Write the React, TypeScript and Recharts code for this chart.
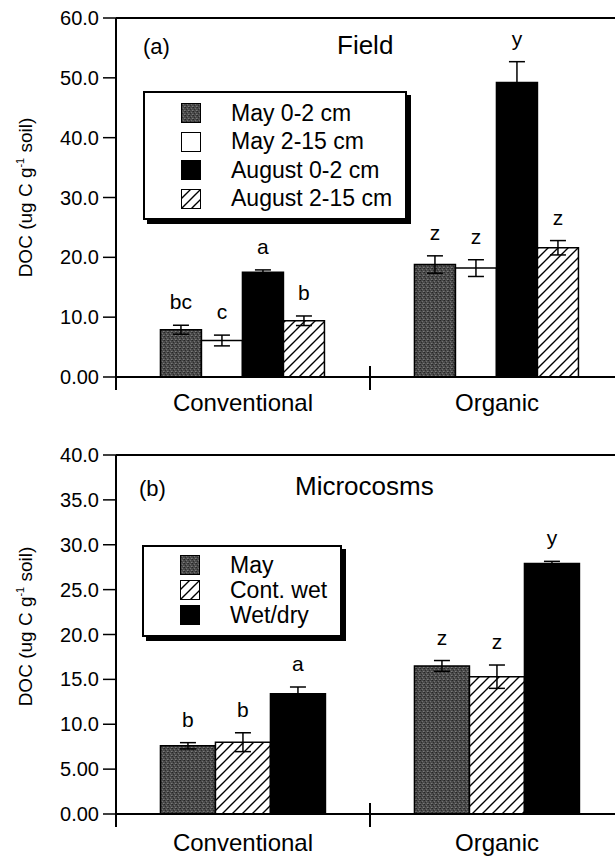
import React from 'react';
import { BarChart, Bar, XAxis, YAxis, ErrorBar, LabelList, ReferenceLine, Legend, Label } from 'recharts';

const FONT = '"Liberation Sans", Arial, Helvetica, sans-serif';

const categories = ['Conventional', 'Organic'];

// (a) Field
const fieldNames = ['May 0-2 cm', 'May 2-15 cm', 'August 0-2 cm', 'August 2-15 cm'];
const fieldMay02 = [7.9, 18.8];
const fieldMay215 = [6.1, 18.2];
const fieldAug02 = [17.5, 49.2];
const fieldAug215 = [9.4, 21.6];
const fieldMay02Se = [0.75, 1.45];
const fieldMay215Se = [0.9, 1.4];
const fieldAug02Se = [0.4, 3.5];
const fieldAug215Se = [0.8, 1.2];
const fieldMay02Sig = ['bc', 'z'];
const fieldMay215Sig = ['c', 'z'];
const fieldAug02Sig = ['a', 'y'];
const fieldAug215Sig = ['b', 'z'];
const fieldTicks = [0, 10, 20, 30, 40, 50, 60];

// (b) Microcosms
const microNames = ['May', 'Cont. wet', 'Wet/dry'];
const microMay = [7.6, 16.5];
const microWet = [8.0, 15.3];
const microWetDry = [13.4, 27.9];
const microMaySe = [0.35, 0.6];
const microWetSe = [1.05, 1.3];
const microWetDrySe = [0.75, 0.25];
const microMaySig = ['b', 'z'];
const microWetSig = ['b', 'z'];
const microWetDrySig = ['a', 'y'];
const microTicks = [0, 5, 10, 15, 20, 25, 30, 35, 40];

const STIPPLE = 'url(#stipple)';
const HATCH = 'url(#hatch)';

function buildRows(values: number[][], errs: number[][], sigs: string[][]) {
  return categories.map((cat, i) => {
    const row: any = { cat };
    values.forEach((v, s) => {
      row['v' + s] = v[i];
      row['e' + s] = errs[s][i];
      row['s' + s] = sigs[s][i];
    });
    return row;
  });
}

const fieldValues = [fieldMay02, fieldMay215, fieldAug02, fieldAug215];
const fieldErrs = [fieldMay02Se, fieldMay215Se, fieldAug02Se, fieldAug215Se];
const fieldRows = buildRows(
  fieldValues,
  fieldErrs,
  [fieldMay02Sig, fieldMay215Sig, fieldAug02Sig, fieldAug215Sig]
);
const fieldFills = [STIPPLE, '#ffffff', '#000000', HATCH];

const microValues = [microMay, microWet, microWetDry];
const microErrs = [microMaySe, microWetSe, microWetDrySe];
const microRows = buildRows(microValues, microErrs, [microMaySig, microWetSig, microWetDrySig]);
const microFills = [STIPPLE, HATCH, '#000000'];

const PLOT_H = 359;

const sigLabel = (vals: number[], errs: number[]) => (props: any) => {
  const vb = props.viewBox ?? props;
  const { x, y, width, height } = vb;
  const i = props.index ?? 0;
  const per = height / vals[i];
  const top = y - errs[i] * per;
  return (
    <text x={x + width / 2} y={top - 16} textAnchor="middle" fontSize={21} fontFamily={FONT} fill="#000">
      {props.value}
    </text>
  );
};

const titleLabel = (tag: string, title: string, tagDx: number, tagDy: number, titleDx: number, titleDy: number) => (props: any) => {
  const { x, y } = props.viewBox;
  return (
    <g fontFamily={FONT} fill="#000">
      <text x={x + tagDx} y={y + tagDy} fontSize={22}>{tag}</text>
      <text x={x + titleDx} y={y + titleDy} fontSize={26}>{title}</text>
    </g>
  );
};

const yLabel = (dy: number) => (props: any) => {
  const { x, y, height } = props.viewBox;
  const cx = x + 24;
  const cy = y + height / 2 + dy;
  return (
    <text transform={`rotate(-90 ${cx} ${cy})`} x={cx} y={cy} textAnchor="middle" fontSize={19} fontFamily={FONT} fill="#000">
      DOC (ug C g<tspan fontSize={11} dy={-8}>-1</tspan><tspan dy={8}> soil)</tspan>
    </text>
  );
};

const catTick = (dy: number) => (props: any) => (
  <text x={props.x} y={props.y + dy} textAnchor="middle" fontSize={24} fontFamily={FONT} fill="#000">
    {props.payload.value}
  </text>
);

function LegendBox({ names, fills, w, h, rowH, padTop }: any) {
  return (
    <div
      style={{
        width: w,
        height: h,
        boxSizing: 'border-box',
        border: '2px solid #000',
        boxShadow: '4px 4px 0 #000',
        background: '#fff',
        paddingTop: padTop,
        fontFamily: FONT,
        fontSize: 23,
        color: '#000',
      }}
    >
      {names.map((n: string, i: number) => (
        <div key={n} style={{ height: rowH, display: 'flex', alignItems: 'center', whiteSpace: 'nowrap' }}>
          <svg width={20} height={20} style={{ marginLeft: 36, marginRight: 30, flex: 'none' }}>
            <rect x={0.5} y={0.5} width={19} height={19} fill={fills[i]} stroke="#000" />
          </svg>
          <span>{n}</span>
        </div>
      ))}
    </div>
  );
}

function Panel({ rows, values, errs, names, fills, ticks, max, height, top, xDy, yDy, title, legend }: any) {
  const per = PLOT_H / max;
  const up = 11 / per;
  const down = -13 / per;
  return (
    <BarChart
      width={640}
      height={height}
      data={rows}
      margin={{ top, right: 24, bottom: 0, left: 0 }}
      barCategoryGap="17.5%"
      barGap={0}
    >
      <XAxis
        dataKey="cat"
        height={height - top - PLOT_H}
        axisLine={{ stroke: '#000', strokeWidth: 2 }}
        tickLine={false}
        tickSize={0}
        tickMargin={0}
        tick={catTick(xDy)}
      />
      <YAxis
        width={108}
        domain={[0, max]}
        ticks={ticks}
        interval={0}
        tickFormatter={(v: number) => v.toPrecision(3)}
        axisLine={{ stroke: '#000', strokeWidth: 2 }}
        tickLine={{ stroke: '#000', strokeWidth: 1.5 }}
        tickSize={13}
        tickMargin={4}
        tick={{ fontSize: 20, fill: '#000', fontFamily: FONT }}
      >
        <Label content={yLabel(yDy)} />
      </YAxis>
      <ReferenceLine y={max} stroke="#000" strokeWidth={2} ifOverflow="visible">
        <Label content={title} />
      </ReferenceLine>
      <ReferenceLine
        segment={[{ x: 'Conventional', y: 0 }, { x: 'Conventional', y: down }]}
        position="start"
        ifOverflow="visible"
        stroke="#000"
        strokeWidth={2}
      />
      <ReferenceLine
        segment={[{ x: 'Organic', y: up }, { x: 'Organic', y: down }]}
        position="start"
        ifOverflow="visible"
        stroke="#000"
        strokeWidth={2}
      />
      <Legend
        layout="vertical"
        align="center"
        verticalAlign="middle"
        wrapperStyle={{ left: legend.left, top: legend.top, width: 'auto' }}
        content={() => (
          <LegendBox names={names} fills={fills} w={legend.w} h={legend.h} rowH={legend.rowH} padTop={legend.padTop} />
        )}
      />
      {names.map((n: string, s: number) => (
        <Bar
          key={n}
          name={n}
          dataKey={'v' + s}
          fill={fills[s]}
          stroke="#000"
          strokeWidth={1.5}
          isAnimationActive={false}
        >
          <ErrorBar dataKey={'e' + s} width={8} stroke="#000" strokeWidth={1.5} />
          <LabelList dataKey={'s' + s} content={sigLabel(values[s], errs[s])} />
        </Bar>
      ))}
    </BarChart>
  );
}

export default function App() {
  return (
    <div
      style={{
        position: 'absolute',
        left: 8,
        top: 8,
        width: 607,
        height: 849,
        overflow: 'hidden',
        background: '#fff',
      }}
    >
      <svg width={0} height={0} style={{ position: 'absolute' }}>
        <defs>
          <pattern id="stipple" patternUnits="userSpaceOnUse" width={4} height={4}>
            <rect width={4} height={4} fill="#4a4a4a" />
            <rect x={0} y={0} width={1} height={1} fill="#262626" />
            <rect x={2} y={1} width={1} height={1} fill="#707070" />
            <rect x={1} y={2} width={1} height={1} fill="#2c2c2c" />
            <rect x={3} y={3} width={1} height={1} fill="#7a7a7a" />
            <rect x={3} y={0} width={1} height={1} fill="#3a3a3a" />
            <rect x={0} y={3} width={1} height={1} fill="#606060" />
          </pattern>
          <pattern id="hatch" patternUnits="userSpaceOnUse" width={10} height={10}>
            <rect width={10} height={10} fill="#fff" />
            <path d="M0,10 L10,0 M-1,1 L1,-1 M9,11 L11,9" stroke="#000" strokeWidth={1.4} />
          </pattern>
        </defs>
      </svg>
      <Panel
        rows={fieldRows}
        values={fieldValues}
        errs={fieldErrs}
        names={fieldNames}
        fills={fieldFills}
        ticks={fieldTicks}
        max={60}
        height={420}
        top={10}
        xDy={34}
        yDy={0}
        title={titleLabel('(a)', 'Field', 27, 36, 221, 36)}
        legend={{ left: 135, top: 83, w: 264, h: 129, rowH: 28.5, padTop: 5.75 }}
      />
      <Panel
        rows={microRows}
        values={microValues}
        errs={microErrs}
        names={microNames}
        fills={microFills}
        ticks={microTicks}
        max={40}
        height={429}
        top={27}
        xDy={37}
        yDy={-8}
        title={titleLabel('(b)', 'Microcosms', 23, 41, 179, 40)}
        legend={{ left: 134, top: 117, w: 200, h: 92, rowH: 25, padTop: 5.5 }}
      />
    </div>
  );
}
